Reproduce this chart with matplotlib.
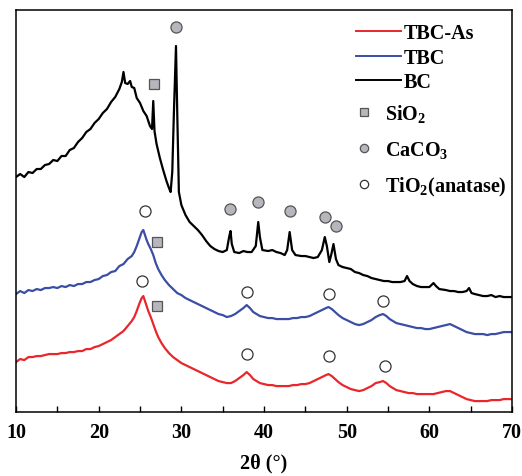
import numpy as np
import matplotlib.pyplot as plt
from matplotlib.lines import Line2D
from matplotlib.ticker import MultipleLocator

plt.rcParams.update({
    "font.family": "Liberation Serif",
    "font.weight": "bold",
    "axes.labelweight": "bold",
    "font.size": 14.5,
    "mathtext.fontset": "custom",
    "mathtext.rm": "Liberation Serif:bold",
    "mathtext.it": "Liberation Serif:bold",
    "mathtext.bf": "Liberation Serif:bold",
})

# BC (black) pattern, intensity in arbitrary units
bc_x = [10.0, 10.5, 11.0, 11.5, 12.0, 12.5, 13.0, 13.5, 14.0, 14.5, 15.0, 15.5, 16.0, 16.5,
        17.0, 17.5, 18.0, 18.5, 19.0, 19.5, 20.0, 20.5, 21.0, 21.5, 22.0, 22.5, 22.8, 23.0,
        23.2, 23.5, 23.8, 24.0, 24.3, 24.6, 25.0, 25.4, 25.8, 26.2, 26.45, 26.6, 26.75, 27.0,
        27.4, 27.8, 28.2, 28.5, 28.7, 28.9, 29.1, 29.35, 29.5, 29.7, 30.0, 30.5, 31.0, 31.5,
        32.0, 32.5, 33.0, 33.5, 34.0, 34.5, 35.0, 35.5, 35.8, 35.95, 36.1, 36.4, 37.0, 37.5,
        38.0, 38.5, 39.0, 39.3, 39.5, 39.8, 40.5, 41.0, 41.5, 42.0, 42.5, 42.8, 43.1, 43.4,
        43.8, 44.5, 45.0, 45.5, 46.0, 46.5, 47.0, 47.35, 47.6, 47.9, 48.15, 48.4, 48.7, 49.0,
        49.5, 50.0, 50.5, 51.0, 51.5, 52.0, 52.5, 53.0, 53.5, 54.0, 54.5, 55.0, 55.5, 56.0,
        56.5, 57.0, 57.3, 57.6, 58.0, 58.5, 59.0, 59.5, 60.0, 60.5, 60.8, 61.2, 62.0, 62.5,
        63.0, 63.5, 64.0, 64.5, 64.8, 65.1, 65.5, 66.0, 66.5, 67.0, 67.5, 68.0, 68.5, 69.0,
        69.5, 70.0]
bc_y = [235, 238, 235, 240, 239, 243, 243, 247, 248, 252, 251, 256, 256, 262,
        264, 270, 274, 280, 283, 289, 293, 299, 303, 310, 315, 323, 330, 340,
        329, 328, 331, 325, 324, 314, 309, 301, 296, 286, 283, 311, 281, 268,
        254, 242, 231, 224, 220, 240, 300, 366, 300, 220, 207, 197, 190, 186,
        182, 177, 171, 166, 163, 161, 160, 162, 176, 181, 168, 160, 159, 161,
        160, 160, 166, 190, 175, 162, 161, 162, 160, 159, 157, 162, 180, 162,
        157, 156, 156, 155, 154, 155, 162, 175, 166, 150, 158, 168, 153, 147,
        145, 144, 143, 140, 139, 137, 136, 134, 133, 132, 131, 131, 130, 130,
        130, 131, 136, 131, 128, 126, 125, 125, 125, 129, 126, 123, 122, 121,
        121, 120, 120, 121, 124, 119, 118, 117, 116, 116, 117, 115, 116, 115,
        115, 115]

# TBC (blue) and TBC-As (red) patterns
tbc_x = [10.0, 10.5, 11.0, 11.5, 12.0, 12.5, 13.0, 13.5, 14.0, 14.5, 15.0, 15.5, 16.0, 16.5,
         17.0, 17.5, 18.0, 18.5, 19.0, 19.5, 20.0, 20.5, 21.0, 21.5, 22.0, 22.5, 23.0, 23.5,
         24.0, 24.3, 24.6, 24.9, 25.2, 25.4, 25.6, 25.8, 26.0, 26.3, 26.6, 26.9, 27.2, 27.6,
         28.0, 28.5, 29.0, 29.5, 30.0, 30.5, 31.0, 31.5, 32.0, 32.5, 33.0, 33.5, 34.0, 34.5,
         35.0, 35.5, 36.0, 36.5, 37.0, 37.5, 37.9, 38.3, 38.7, 39.1, 39.5, 40.0, 40.5, 41.0,
         41.5, 42.0, 42.5, 43.0, 43.5, 44.0, 44.5, 45.0, 45.5, 46.0, 46.5, 47.0, 47.5, 47.8,
         48.2, 48.6, 49.0, 49.5, 50.0, 50.5, 51.0, 51.5, 52.0, 52.5, 53.0, 53.5, 54.0, 54.4,
         54.8, 55.2, 55.6, 56.0, 56.5, 57.0, 57.5, 58.0, 58.5, 59.0, 59.5, 60.0, 60.5, 61.0,
         61.5, 62.0, 62.5, 63.0, 63.5, 64.0, 64.5, 65.0, 65.5, 66.0, 66.5, 67.0, 67.5, 68.0,
         68.5, 69.0, 69.5, 70.0]
tbc_y = [118, 121, 119, 122, 121, 123, 122, 124, 124, 125, 124, 126, 125, 127,
         126, 128, 128, 130, 130, 132, 133, 136, 137, 140, 141, 146, 148, 153,
         156, 160, 166, 173, 180, 182, 177, 172, 168, 163, 157, 149, 143, 137,
         132, 127, 123, 119, 117, 114, 112, 110, 108, 106, 104, 102, 100, 98,
         97, 95, 96, 98, 101, 104, 107, 104, 100, 98, 96, 95, 94, 94,
         93, 93, 93, 93, 94, 94, 95, 95, 96, 98, 100, 102, 104, 105,
         103, 100, 97, 94, 92, 90, 88, 87, 88, 90, 92, 95, 97, 98,
         96, 93, 91, 89, 88, 87, 86, 85, 84, 84, 83, 83, 84, 85,
         86, 87, 88, 86, 84, 82, 80, 79, 78, 78, 78, 77, 78, 78,
         79, 80, 80, 80]
tbcas_y = [50, 53, 52, 55, 55, 56, 56, 57, 58, 58, 58, 59, 59, 60,
           60, 61, 61, 63, 63, 65, 66, 68, 70, 72, 75, 78, 81, 86,
           91, 95, 101, 108, 114, 116, 111, 106, 101, 95, 88, 81, 75, 69,
           64, 59, 55, 52, 49, 47, 45, 43, 41, 39, 37, 35, 33, 31,
           30, 29, 29, 31, 34, 37, 40, 37, 33, 31, 29, 28, 27, 27,
           26, 26, 26, 26, 27, 27, 28, 28, 29, 31, 33, 35, 37, 38,
           36, 33, 30, 27, 25, 23, 22, 21, 22, 24, 26, 29, 30, 31,
           29, 26, 24, 22, 21, 20, 19, 19, 18, 18, 18, 18, 18, 19,
           20, 21, 21, 19, 17, 15, 13, 12, 11, 11, 11, 11, 12, 12,
           12, 13, 13, 13]

# phase markers
sio2_x = [26.7, 27.0, 27.0]
sio2_y = [328, 170, 106]
caco3_x = [29.35, 35.9, 39.3, 43.1, 47.4, 48.7]
caco3_y = [385, 203, 210, 201, 195, 186]
tio2_x = [25.6, 37.9, 47.9, 54.4, 25.2, 38.0, 47.9, 54.6]
tio2_y = [201, 120, 118, 111, 131, 58, 56, 46]

red = "#e8262b"
blue = "#3a4ea5"

fig = plt.figure(figsize=(5.22, 4.77), dpi=100)
ax = fig.add_axes([0.0307, 0.134, 0.9502, 0.843])

ax.plot(tbc_x, tbcas_y, color=red, lw=1.6)
ax.plot(tbc_x, tbc_y, color=blue, lw=1.6)
ax.plot(bc_x, bc_y, color="black", lw=1.6)

gray_kw = dict(ls="none", mfc="#b6b6bc", mec="#555555", mew=0.9)
white_kw = dict(ls="none", mfc="white", mec="#333333", mew=0.9)
ax.plot(sio2_x, sio2_y, marker="s", ms=7, **gray_kw)
ax.plot(caco3_x, caco3_y, marker="o", ms=8, **gray_kw)
ax.plot(tio2_x, tio2_y, marker="o", ms=8, **white_kw)

ax.set_xlim(10, 70)
ax.set_ylim(0, 402)
ax.xaxis.set_major_locator(MultipleLocator(10))
ax.xaxis.set_minor_locator(MultipleLocator(5))
ax.tick_params(axis="x", which="both", direction="in", length=4, width=1, top=False, pad=7)
ax.tick_params(axis="y", left=False, labelleft=False)
for lbl in ax.get_xticklabels():
    lbl.set_fontweight("bold")
for s in ax.spines.values():
    s.set_linewidth(1.1)
ax.set_xlabel("2θ (°)", labelpad=8, fontweight="bold")

line_handles = [
    Line2D([], [], color=red, lw=1.4),
    Line2D([], [], color=blue, lw=1.4),
    Line2D([], [], color="black", lw=1.4),
]
leg1 = ax.legend(line_handles, ["TBC-As", "TBC", "BC"], loc="upper left",
                 bbox_to_anchor=(0.67, 0.987), frameon=False, handlelength=2.2,
                 handletextpad=0.15, labelspacing=0.22, borderaxespad=0,
                 prop={"weight": "bold"})
ax.add_artist(leg1)

marker_handles = [
    Line2D([], [], marker="s", ms=5.5, **gray_kw),
    Line2D([], [], marker="o", ms=6, **gray_kw),
    Line2D([], [], marker="o", ms=6, **white_kw),
]
ax.legend(marker_handles, [r"SiO$_{2}$", r"CaCO$_{3}$", r"TiO$_{2}$(anatase)"],
          loc="upper left", bbox_to_anchor=(0.67, 0.79), frameon=False,
          handlelength=0.8, handletextpad=0.6, labelspacing=0.72, borderaxespad=0,
          prop={"weight": "bold"})

fig.savefig("out.png", dpi=100)
